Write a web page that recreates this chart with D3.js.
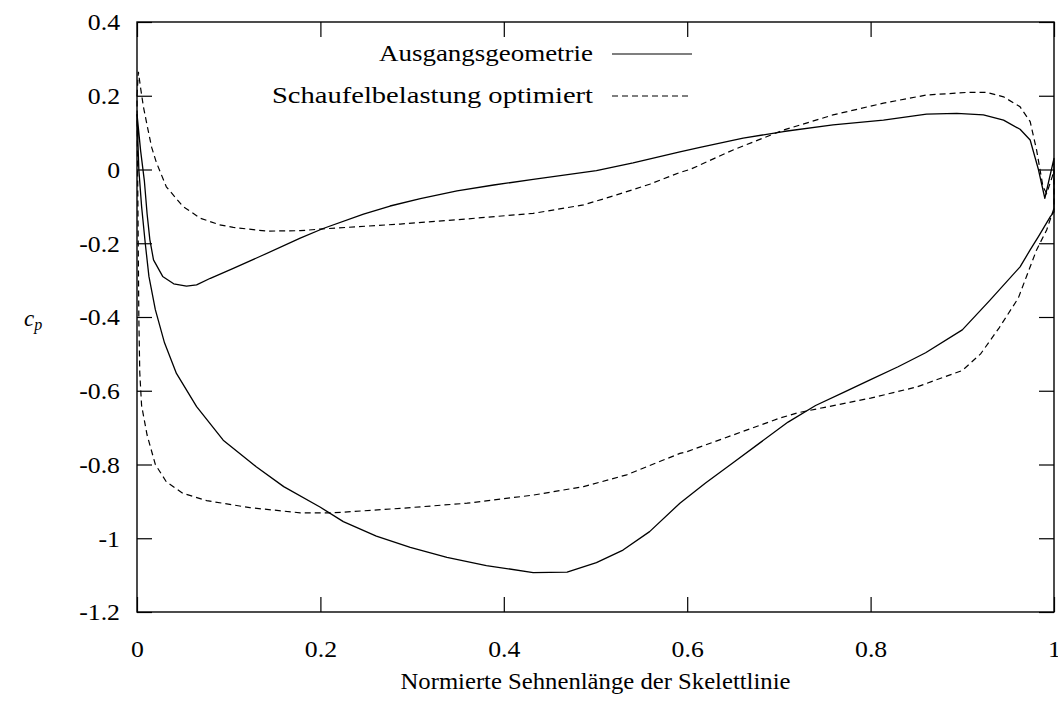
<!DOCTYPE html>
<html>
<head>
<meta charset="utf-8">
<script src="https://cdn.jsdelivr.net/npm/d3@7"></script>
<style>
  html, body { margin: 0; padding: 0; background: #fff; }
  svg { display: block; }
  svg text { font-family: 'Liberation Serif', 'Times New Roman', Times, serif !important; fill: #000; }
</style>
</head>
<body>
<svg id="chart" width="1058" height="716"></svg>
<script>
// Pressure coefficient along the normalised chord of the camber line.
// Each profile is one closed polyline: upper branch from leading to
// trailing edge, then the other branch back to the leading edge.

const xTickValues = [0, 0.2, 0.4, 0.6, 0.8, 1];
const xTickLabels = ["0", "0.2", "0.4", "0.6", "0.8", "1"];
const yTickValues = [0.4, 0.2, 0, -0.2, -0.4, -0.6, -0.8, -1, -1.2];
const yTickLabels = ["0.4", "0.2", "0", "-0.2", "-0.4", "-0.6", "-0.8", "-1", "-1.2"];

const seriesNames = ["Ausgangsgeometrie", "Schaufelbelastung optimiert"];

// Ausgangsgeometrie: chord positions and cp values
const baseX = [
  0, 0.004, 0.008, 0.011, 0.014, 0.018, 0.028, 0.040, 0.054, 0.065, 0.080,
  0.105, 0.134, 0.178, 0.203, 0.247, 0.276, 0.309, 0.349, 0.389, 0.432,
  0.501, 0.541, 0.592, 0.614, 0.661, 0.705, 0.759, 0.814, 0.861, 0.894,
  0.923, 0.945, 0.963, 0.974, 0.983, 0.990, 1.0,
  1.0, 0.996, 0.983, 0.974, 0.963, 0.930, 0.900, 0.860, 0.830, 0.800,
  0.770, 0.740, 0.710, 0.680, 0.650, 0.620, 0.592, 0.559, 0.530, 0.501,
  0.469, 0.432, 0.381, 0.338, 0.298, 0.261, 0.225, 0.200, 0.160, 0.130,
  0.094, 0.065, 0.043, 0.030, 0.020, 0.013, 0.009, 0.005, 0.002, 0
];
const baseCp = [
  0.15, 0.05, -0.03, -0.12, -0.19, -0.245, -0.29, -0.31, -0.316, -0.313, -0.295,
  -0.268, -0.236, -0.186, -0.16, -0.121, -0.099, -0.079, -0.058, -0.042, -0.027,
  -0.003, 0.018, 0.048, 0.06, 0.085, 0.103, 0.121, 0.134, 0.15, 0.152,
  0.148, 0.134, 0.109, 0.08, 0.0, -0.078, 0.03,
  -0.115, -0.128, -0.182, -0.218, -0.264, -0.355, -0.435, -0.497, -0.535, -0.57,
  -0.605, -0.64, -0.685, -0.74, -0.795, -0.85, -0.905, -0.982, -1.032, -1.066,
  -1.092, -1.093, -1.074, -1.052, -1.025, -0.994, -0.955, -0.916, -0.86, -0.806,
  -0.734, -0.643, -0.553, -0.47, -0.38, -0.29, -0.2, -0.1, 0.0, 0.15
];

// Schaufelbelastung optimiert: chord positions and cp values
const optX = [
  0, 0.0015, 0.004, 0.007, 0.011, 0.016, 0.021, 0.032, 0.050, 0.069, 0.090,
  0.105, 0.141, 0.178, 0.203, 0.287, 0.360, 0.432, 0.487, 0.523, 0.559,
  0.592, 0.603, 0.650, 0.705, 0.759, 0.814, 0.861, 0.905, 0.927, 0.945,
  0.963, 0.974, 0.981, 0.988, 0.992, 0.998, 1.0,
  1.0, 0.992, 0.981, 0.970, 0.961, 0.940, 0.920, 0.900, 0.850, 0.800, 0.750,
  0.720, 0.700, 0.650, 0.600, 0.592, 0.534, 0.487, 0.432, 0.360, 0.287,
  0.214, 0.178, 0.123, 0.076, 0.050, 0.032, 0.020, 0.011, 0.005, 0.003,
  0.002, 0.001, 0
];
const optCp = [
  0.2, 0.265, 0.22, 0.17, 0.12, 0.06, 0.02, -0.047, -0.1, -0.132, -0.15,
  -0.157, -0.167, -0.166, -0.161, -0.148, -0.134, -0.119, -0.096, -0.069, -0.04,
  -0.008, 0.0, 0.053, 0.107, 0.148, 0.18, 0.202, 0.209, 0.209, 0.197,
  0.17, 0.13, 0.053, -0.047, -0.065, -0.02, 0.0,
  -0.105, -0.164, -0.218, -0.29, -0.349, -0.43, -0.50, -0.545, -0.59, -0.62, -0.645,
  -0.66, -0.675, -0.72, -0.765, -0.77, -0.828, -0.86, -0.883, -0.905, -0.919,
  -0.931, -0.931, -0.917, -0.898, -0.878, -0.847, -0.8, -0.72, -0.64, -0.55,
  -0.4, -0.1, 0.2
];

const svg = d3.select("#chart");
const plot = { left: 137, top: 22, width: 917, height: 590 };
const stretch = 1.12;      // glyphs are drawn slightly wide
const fontSize = 23;

const x = d3.scaleLinear().domain([0, 1]).range([plot.left, plot.left + plot.width]);
const y = d3.scaleLinear().domain([-1.2, 0.4]).range([plot.top + plot.height, plot.top]);

function widen(sel) {
  sel.each(function () {
    const w = this.getComputedTextLength();
    d3.select(this).attr("textLength", w * stretch).attr("lengthAdjust", "spacingAndGlyphs");
  });
}

// Axes with inward ticks on all four sides
const tickLen = 15;
const gBottom = svg.append("g").attr("transform", `translate(0,${plot.top + plot.height})`)
  .call(d3.axisBottom(x).tickValues(xTickValues).tickFormat((d, i) => xTickLabels[i])
    .tickSizeInner(-tickLen).tickSizeOuter(0).tickPadding(29));
const gTop = svg.append("g").attr("transform", `translate(0,${plot.top})`)
  .call(d3.axisTop(x).tickValues(xTickValues).tickFormat("").tickSizeInner(-tickLen).tickSizeOuter(0));
const gLeft = svg.append("g").attr("transform", `translate(${plot.left},0)`)
  .call(d3.axisLeft(y).tickValues(yTickValues).tickFormat((d, i) => yTickLabels[i])
    .tickSizeInner(-tickLen).tickSizeOuter(0).tickPadding(17));
const gRight = svg.append("g").attr("transform", `translate(${plot.left + plot.width},0)`)
  .call(d3.axisRight(y).tickValues(yTickValues).tickFormat("").tickSizeInner(-tickLen).tickSizeOuter(0));

[gBottom, gTop, gLeft, gRight].forEach(g => {
  g.attr("font-family", null).attr("font-size", fontSize);
  g.select(".domain").remove();
  g.selectAll(".tick line").attr("stroke", "#000").attr("stroke-width", 1.2);
  g.selectAll("text").attr("fill", "#000");
});
gLeft.selectAll(".tick text").attr("dy", "0.34em");
widen(gBottom.selectAll(".tick text"));
widen(gLeft.selectAll(".tick text"));

// Frame
svg.append("rect")
  .attr("x", plot.left).attr("y", plot.top)
  .attr("width", plot.width).attr("height", plot.height)
  .attr("fill", "none").attr("stroke", "#000").attr("stroke-width", 1.4);

// Curves
const line = d3.line().x(d => x(d[0])).y(d => y(d[1]));
const baseData = baseX.map((v, i) => [v, baseCp[i]]);
const optData = optX.map((v, i) => [v, optCp[i]]);

svg.append("path").datum(baseData)
  .attr("d", line).attr("fill", "none").attr("stroke", "#000")
  .attr("stroke-width", 1.3).attr("stroke-linejoin", "round");
svg.append("path").datum(optData)
  .attr("d", line).attr("fill", "none").attr("stroke", "#000")
  .attr("stroke-width", 1.2).attr("stroke-dasharray", "6,4");

// Legend: text right-aligned, line sample to its right
const legend = [
  { name: seriesNames[0], dash: null, y: 54, width: 214 },
  { name: seriesNames[1], dash: "6,4", y: 96, width: 321 }
];
const legendTextRight = 593;
legend.forEach(d => {
  svg.append("text")
    .attr("x", legendTextRight).attr("y", d.y + 7)
    .attr("text-anchor", "end").attr("font-size", fontSize)
    .attr("textLength", d.width).attr("lengthAdjust", "spacingAndGlyphs")
    .text(d.name);
  svg.append("line")
    .attr("x1", 612).attr("x2", 692).attr("y1", d.y).attr("y2", d.y)
    .attr("stroke", "#000").attr("stroke-width", 1.2)
    .attr("stroke-dasharray", d.dash);
});

// Axis titles
svg.append("text")
  .attr("x", plot.left + plot.width / 2).attr("y", 689)
  .attr("text-anchor", "middle").attr("font-size", fontSize)
  .attr("textLength", 390).attr("lengthAdjust", "spacingAndGlyphs")
  .text("Normierte Sehnenlänge der Skelettlinie");

const yTitle = svg.append("text")
  .attr("x", 24).attr("y", 326).attr("font-size", fontSize)
  .attr("font-style", "italic");
yTitle.append("tspan").text("c");
yTitle.append("tspan").attr("font-size", 16).attr("dy", 4).text("p");
</script>
</body>
</html>
